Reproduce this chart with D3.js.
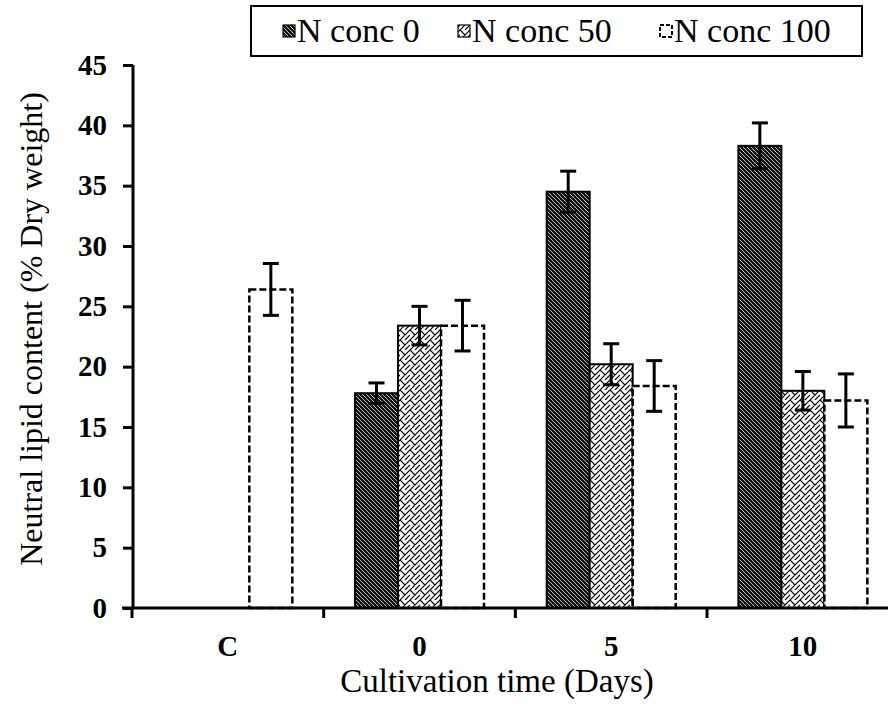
<!DOCTYPE html>
<html>
<head>
<meta charset="utf-8">
<script src="https://cdn.jsdelivr.net/npm/d3@7"></script>
<style>
  html, body { margin: 0; padding: 0; background: #fff; }
  svg { display: block; }
  text { font-family: "Liberation Serif", "Times New Roman", serif; fill: #000; }
</style>
</head>
<body>
<svg id="chart" width="888" height="704"></svg>
<script>
// ---- data ----
const categories = ["C", "0", "5", "10"];
const seriesNames = ["N conc 0", "N conc 50", "N conc 100"];
const conc0 = [null, 17.8, 34.5, 38.3];
const conc50 = [null, 23.4, 20.2, 18.0];
const conc100 = [26.4, 23.4, 18.4, 17.2];
const err0 = [null, 0.85, 1.7, 1.9];
const err50 = [null, 1.6, 1.7, 1.6];
const err100 = [2.15, 2.1, 2.1, 2.2];
const yTicks = [0, 5, 10, 15, 20, 25, 30, 35, 40, 45];
const xTitle = "Cultivation time (Days)";
const yTitle = "Neutral lipid content (% Dry weight)";

const seriesValues = [conc0, conc50, conc100];
const seriesErrors = [err0, err50, err100];
const patterns = ["pDark", "pBrick", "pEmpty"];

const svg = d3.select("#chart");
const defs = svg.append("defs");

// dark pattern: black with thin light diagonals
const pd = defs.append("pattern").attr("id", "pDark").attr("patternUnits", "userSpaceOnUse")
  .attr("width", 4).attr("height", 4);
pd.append("rect").attr("width", 4).attr("height", 4).attr("fill", "#111");
pd.append("path").attr("d", "M-1,-1 L5,5 M-1,3 L1,5 M3,-1 L5,1")
  .attr("stroke", "#cfcfcf").attr("stroke-width", 0.9);

// diagonal brick pattern
const pb = defs.append("pattern").attr("id", "pBrick").attr("patternUnits", "userSpaceOnUse")
  .attr("width", 10).attr("height", 10);
pb.append("rect").attr("width", 10).attr("height", 10).attr("fill", "#fff");
pb.append("path").attr("d", "M0,10 L10,0 M-1,1 L1,-1 M9,11 L11,9 M0,0 L5,5 M5,10 L10,5")
  .attr("stroke", "#000").attr("stroke-width", 1.2).attr("fill", "none");

const pe = defs.append("pattern").attr("id", "pEmpty").attr("patternUnits", "userSpaceOnUse")
  .attr("width", 4).attr("height", 4);
pe.append("rect").attr("width", 4).attr("height", 4).attr("fill", "#fff");

// ---- scales ----
const y = d3.scaleLinear().domain([0, 45]).range([608, 65]);
const x0 = d3.scaleBand().domain(categories).range([132, 898.7]).padding(0);
const bw0 = x0.bandwidth();
const groupW = 129;
const x1 = d3.scaleBand().domain(seriesNames)
  .range([(bw0 - groupW) / 2, (bw0 + groupW) / 2]).padding(0);

// ---- bars ----
const barData = [];
seriesNames.forEach((s, si) => {
  categories.forEach((c, ci) => {
    const v = seriesValues[si][ci];
    if (v !== null) barData.push({ s, si, c, v, e: seriesErrors[si][ci] });
  });
});

const bars = svg.append("g");
bars.selectAll("rect").data(barData).enter().append("rect")
  .attr("x", d => x0(d.c) + x1(d.s))
  .attr("y", d => y(d.v))
  .attr("width", x1.bandwidth())
  .attr("height", d => y(0) - y(d.v))
  .attr("fill", d => `url(#${patterns[d.si]})`)
  .attr("stroke", "#000")
  .attr("stroke-width", d => d.si === 2 ? 2.5 : 2)
  .attr("stroke-dasharray", d => d.si === 2 ? "7,3" : null);

// ---- error bars ----
const eb = svg.append("g").attr("stroke", "#000").attr("stroke-width", 3);
barData.forEach(d => {
  const cx = x0(d.c) + x1(d.s) + x1.bandwidth() / 2;
  const yt = y(d.v + d.e), yb = y(d.v - d.e);
  eb.append("line").attr("x1", cx).attr("x2", cx).attr("y1", yt).attr("y2", yb);
  eb.append("line").attr("x1", cx - 8).attr("x2", cx + 8).attr("y1", yt).attr("y2", yt);
  eb.append("line").attr("x1", cx - 8).attr("x2", cx + 8).attr("y1", yb).attr("y2", yb);
});

// ---- axes ----
const yAxis = svg.append("g").attr("transform", "translate(133,0)")
  .call(d3.axisLeft(y).tickValues(yTicks).tickSize(10).tickPadding(16));
yAxis.select(".domain").attr("stroke-width", 3).attr("d", `M0,${y(45)}V${y(0) + 1.5}`);
yAxis.selectAll(".tick line").attr("stroke-width", 3);
yAxis.selectAll(".tick text").attr("font-size", 29).attr("font-weight", "bold")
  .attr("font-family", "Liberation Serif, serif");

const xAxis = svg.append("g").attr("transform", `translate(0,${y(0)})`)
  .call(d3.axisBottom(x0).tickSize(0).tickPadding(0));
xAxis.select(".domain").attr("stroke-width", 3).attr("d", "M122,0H890");
xAxis.selectAll(".tick text").attr("font-size", 29).attr("font-weight", "bold")
  .attr("font-family", "Liberation Serif, serif").attr("dy", null).attr("y", 48);
// band boundary ticks
const bounds = categories.map(c => x0(c)).concat([x0(categories[categories.length - 1]) + bw0]);
xAxis.append("g").selectAll("line").data(bounds).enter().append("line")
  .attr("x1", d => d).attr("x2", d => d).attr("y1", 0).attr("y2", 10)
  .attr("stroke", "#000").attr("stroke-width", 3);

// ---- titles ----
svg.append("text").attr("x", 497).attr("y", 692).attr("text-anchor", "middle")
  .attr("font-size", 33).text(xTitle);
svg.append("text").attr("transform", "translate(42,329) rotate(-90)")
  .attr("text-anchor", "middle").attr("font-size", 32).text(yTitle);

// ---- legend ----
const lg = svg.append("g");
lg.append("rect").attr("x", 251).attr("y", 6).attr("width", 611).attr("height", 50)
  .attr("fill", "#fff").attr("stroke", "#000").attr("stroke-width", 2);
const legX = [283, 458, 660];
seriesNames.forEach((s, i) => {
  lg.append("rect").attr("x", legX[i]).attr("y", 25).attr("width", 12).attr("height", 12)
    .attr("fill", `url(#${patterns[i]})`).attr("stroke", "#000")
    .attr("stroke-width", i === 2 ? 2 : 1.2).attr("stroke-dasharray", i === 2 ? "4,2" : null);
  lg.append("text").attr("x", legX[i] + 14).attr("y", 42).attr("font-size", 34).text(s);
});
</script>
</body>
</html>
